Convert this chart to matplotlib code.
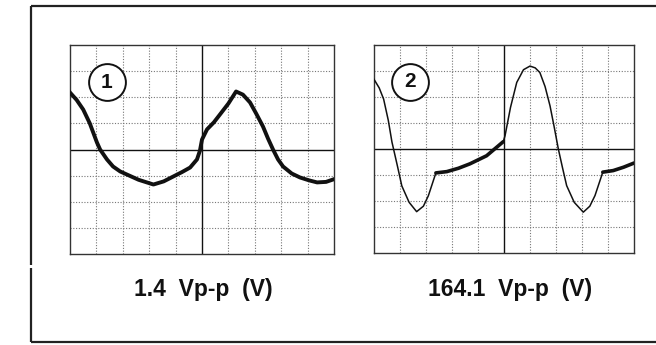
import matplotlib.pyplot as plt
from matplotlib.lines import Line2D

# scope traces, in screen divisions (10 x 8 graticule, centre = 0,0)
trace1_x = [-5.0, -4.75, -4.5, -4.25, -3.98, -3.86, -3.6, -3.37, -3.1, -2.84, -2.4, -1.84,
            -1.45, -1.08, -0.75, -0.45, -0.19, -0.08, 0.0, 0.19, 0.45, 0.68, 1.0, 1.29,
            1.55, 1.82, 2.05, 2.31, 2.5, 2.69, 2.88, 3.07, 3.4, 3.71, 4.05, 4.36, 4.7, 4.96]
trace1_y = [2.18, 1.9, 1.53, 1.0, 0.27, 0.0, -0.38, -0.65, -0.84, -0.96, -1.16, -1.34,
            -1.22, -1.03, -0.86, -0.69, -0.38, -0.05, 0.38, 0.77, 1.04, 1.34, 1.76, 2.22,
            2.1, 1.8, 1.38, 0.88, 0.42, 0.0, -0.38, -0.65, -0.92, -1.07, -1.18, -1.26, -1.24, -1.15]

trace2_x = [-5.0, -4.8, -4.63, -4.45, -4.31, -4.1, -3.93, -3.65, -3.36, -3.1, -2.91, -2.62]
trace2_y = [2.68, 2.35, 1.92, 1.1, 0.27, -0.65, -1.42, -2.05, -2.41, -2.2, -1.8, -0.92]
trace2_x += [-2.2, -1.75, -1.31, -0.67, -0.03]
trace2_y += [-0.87, -0.74, -0.57, -0.26, 0.28]
trace2_x += [0.04, 0.25, 0.49, 0.75, 1.0, 1.2, 1.38, 1.58, 1.77, 1.93, 2.09, 2.25, 2.41,
             2.7, 3.05, 3.3, 3.5, 3.8]
trace2_y += [0.51, 1.6, 2.56, 3.05, 3.19, 3.12, 2.94, 2.4, 1.66, 0.85, 0.0, -0.72, -1.41,
             -2.05, -2.43, -2.2, -1.79, -0.89]
trace2_x += [4.2, 4.6, 5.0]
trace2_y += [-0.83, -0.7, -0.54]

# flat, heavier parts of trace 2 (index ranges)
trace2_heavy = [(11, 16), (34, 37)]

labels = ['1.4  Vp-p  (V)', '164.1  Vp-p  (V)']
numbers = ['1', '2']

fig = plt.figure(figsize=(6.56, 3.45), dpi=100)
fig.patch.set_facecolor('white')

# outer frame (open on the right)
frame = dict(color='#222222', lw=1.6, solid_capstyle='butt')
fig.add_artist(Line2D([31 / 656, 1.0], [1 - 6 / 345, 1 - 6 / 345], **frame))
fig.add_artist(Line2D([31 / 656, 1.0], [1 - 342 / 345, 1 - 342 / 345], **frame))
fig.add_artist(Line2D([31 / 656, 31 / 656], [1 - 6 / 345, 1 - 265 / 345], **frame))
fig.add_artist(Line2D([31 / 656, 31 / 656], [1 - 268 / 345, 1 - 342 / 345], **frame))

ax1 = fig.add_axes([70 / 656, 1 - 254 / 345, 264 / 656, 209 / 345])
ax2 = fig.add_axes([374 / 656, 1 - 253 / 345, 260 / 656, 208 / 345])


def graticule(ax):
    ax.set_xlim(-5, 5)
    ax.set_ylim(-4, 4)
    for x in range(-4, 5):
        if x == 0:
            ax.axvline(0, color='#111111', lw=1.0, zorder=1)
        else:
            ax.axvline(x, color='#777777', lw=0.8, ls=(0, (1, 1.5)), zorder=1)
    for y in range(-3, 4):
        if y == 0:
            ax.axhline(0, color='#111111', lw=1.0, zorder=1)
        else:
            ax.axhline(y, color='#777777', lw=0.8, ls=(0, (1, 1.5)), zorder=1)
    ax.set_xticks([])
    ax.set_yticks([])
    for s in ax.spines.values():
        s.set_color('#333333')
        s.set_linewidth(1.0)


for ax, num in zip([ax1, ax2], numbers):
    graticule(ax)
    ax.plot([-3.6], [2.58], marker='o', markersize=26.5, markerfacecolor='white',
            markeredgecolor='#111111', markeredgewidth=1.4, zorder=4, clip_on=False)
    ax.text(-3.6, 2.58, num, ha='center', va='center', fontsize=15, fontweight='bold',
            family='Liberation Sans', color='#111111', zorder=5)

# captions under each screen
for xc, lab in zip([203.5 / 656, 510 / 656], labels):
    fig.text(xc, 1 - 296 / 345, lab, ha='center', va='baseline', fontsize=16.5,
             fontweight='bold', family='Liberation Sans', color='#111111')

ax1.plot(trace1_x, trace1_y, color='#111111', lw=2.8, solid_joinstyle='round', zorder=3)

ax2.plot(trace2_x, trace2_y, color='#111111', lw=1.1, solid_joinstyle='round', zorder=3)
for a, b in trace2_heavy:
    ax2.plot(trace2_x[a:b + 1], trace2_y[a:b + 1], color='#111111', lw=2.6,
             solid_capstyle='round', zorder=3)

fig.savefig('out.png', dpi=100, facecolor='white')
